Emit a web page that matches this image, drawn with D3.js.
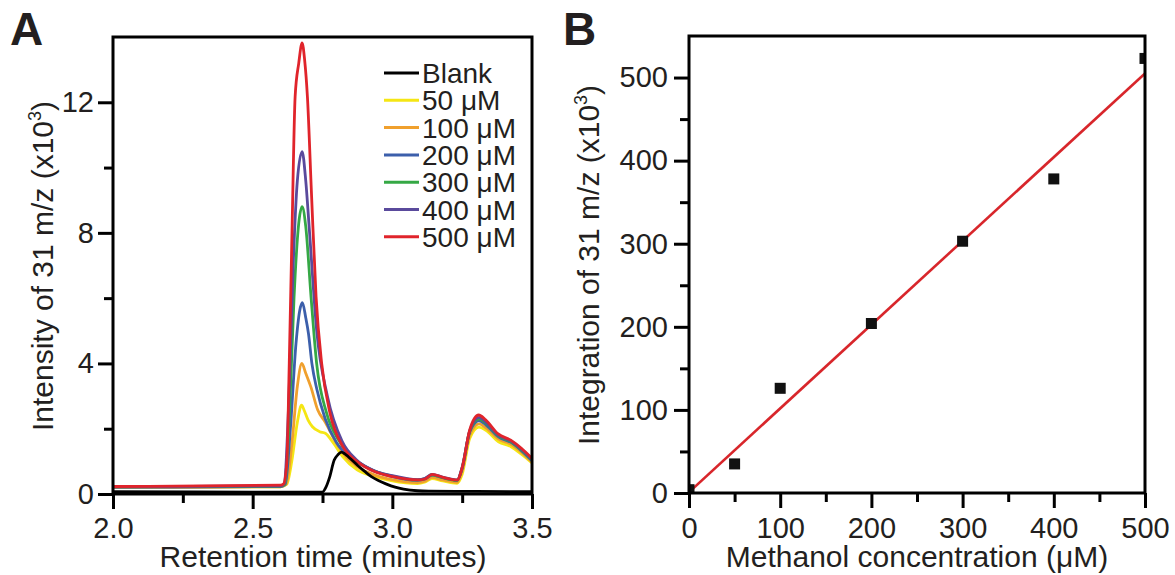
<!DOCTYPE html>
<html>
<head>
<meta charset="utf-8">
<script src="https://cdn.jsdelivr.net/npm/d3@7/dist/d3.min.js"></script>
<style>
body { margin: 0; background: #fff; }
text { font-family: "Liberation Sans", Arial, sans-serif; fill: #231f20; }
</style>
</head>
<body>
<div id="chart"></div>
<script>
// panel A: chromatogram traces [time (min), intensity x10^3]
const blankTrace = [[2.0,0.07],[2.5,0.06],[2.75,0.06],[2.762,0.2],[2.775,0.5],[2.792,1.04],[2.805,1.2],[2.818,1.28],[2.83,1.23],[2.845,1.12],[2.875,0.88],[2.9,0.7],[2.925,0.53],[2.95,0.41],[2.977,0.31],[3.01,0.21],[3.04,0.15],[3.09,0.1],[3.13,0.09],[3.3,0.08],[3.5,0.07]];
const trace50 = [[2.0,0.2],[2.6,0.22],[2.622,0.3],[2.64,1.0],[2.66,2.2],[2.675,2.72],[2.685,2.55],[2.698,2.27],[2.714,2.06],[2.74,1.91],[2.76,1.86],[2.79,1.55],[2.823,1.14],[2.874,0.74],[2.938,0.53],[3.0,0.4],[3.09,0.32],[3.115,0.36],[3.142,0.47],[3.18,0.4],[3.232,0.33],[3.25,0.6],[3.277,1.7],[3.31,2.05],[3.335,1.95],[3.38,1.6],[3.425,1.45],[3.462,1.22],[3.5,0.95]];
const trace100 = [[2.0,0.2],[2.6,0.22],[2.62,0.3],[2.64,1.5],[2.66,3.3],[2.676,4.0],[2.69,3.7],[2.708,3.29],[2.733,2.57],[2.76,2.2],[2.797,1.6],[2.836,1.12],[2.874,0.84],[2.938,0.58],[3.0,0.44],[3.09,0.35],[3.117,0.39],[3.142,0.51],[3.18,0.43],[3.232,0.36],[3.25,0.7],[3.277,1.8],[3.31,2.15],[3.335,2.03],[3.38,1.68],[3.425,1.52],[3.462,1.28],[3.5,0.98]];
const trace200 = [[2.0,0.21],[2.6,0.23],[2.617,0.3],[2.635,2.0],[2.655,4.6],[2.668,5.6],[2.678,5.86],[2.69,5.4],[2.7,4.9],[2.712,4.0],[2.73,3.2],[2.76,2.3],[2.8,1.58],[2.85,1.12],[2.9,0.86],[2.95,0.66],[3.0,0.53],[3.09,0.42],[3.117,0.46],[3.142,0.58],[3.18,0.5],[3.232,0.42],[3.25,0.78],[3.277,1.9],[3.31,2.25],[3.335,2.12],[3.38,1.75],[3.425,1.58],[3.462,1.33],[3.5,1.02]];
const trace300 = [[2.0,0.22],[2.6,0.24],[2.615,0.3],[2.632,2.5],[2.648,6.0],[2.665,8.3],[2.677,8.8],[2.69,8.2],[2.709,6.04],[2.729,4.0],[2.765,2.47],[2.81,1.62],[2.86,1.1],[2.92,0.76],[3.0,0.55],[3.09,0.43],[3.117,0.47],[3.142,0.59],[3.18,0.5],[3.232,0.42],[3.25,0.8],[3.277,1.92],[3.31,2.3],[3.335,2.17],[3.38,1.78],[3.425,1.6],[3.462,1.35],[3.5,1.05]];
const trace400 = [[2.0,0.22],[2.6,0.25],[2.613,0.32],[2.63,3.0],[2.645,7.0],[2.66,9.6],[2.677,10.49],[2.69,9.6],[2.703,8.09],[2.729,5.02],[2.768,2.98],[2.82,1.62],[2.87,1.06],[2.93,0.73],[3.0,0.56],[3.09,0.44],[3.117,0.48],[3.142,0.6],[3.18,0.52],[3.232,0.43],[3.25,0.82],[3.277,1.94],[3.31,2.35],[3.335,2.2],[3.38,1.8],[3.425,1.62],[3.462,1.37],[3.5,1.07]];
const trace500 = [[2.0,0.23],[2.6,0.27],[2.61,0.3],[2.622,0.94],[2.631,4.0],[2.641,8.09],[2.652,12.17],[2.665,13.2],[2.677,13.82],[2.686,13.3],[2.696,12.17],[2.711,9.11],[2.727,6.04],[2.747,4.0],[2.777,2.47],[2.823,1.45],[2.874,0.99],[2.938,0.68],[3.002,0.53],[3.092,0.43],[3.117,0.46],[3.143,0.6],[3.181,0.51],[3.232,0.43],[3.251,0.84],[3.277,1.96],[3.309,2.42],[3.334,2.27],[3.379,1.84],[3.424,1.65],[3.462,1.4],[3.5,1.09]];

const legendLabels = ['Blank', '50 μM', '100 μM', '200 μM', '300 μM', '400 μM', '500 μM'];
const traces = [blankTrace, trace50, trace100, trace200, trace300, trace400, trace500];
const traceColors = ['#000000', '#f5e614', '#f0a02d', '#3c5fab', '#35a845', '#5a4a9c', '#e0242b'];

const timeTicks = [2.0, 2.5, 3.0, 3.5];
const timeMinorTicks = [2.25, 2.75, 3.25];
const intensityTicks = [0, 4, 8, 12];
const intensityMinorTicks = [2, 6, 10];

// panel B: calibration
const concentrations = [0, 50, 100, 200, 300, 400, 500];
const integrations = [4, 35, 126, 204, 303, 378, 523];
const fitLine = [[0, 1], [500, 505]];
const concTicks = [0, 100, 200, 300, 400, 500];
const concMinorTicks = [50, 150, 250, 350, 450];
const integTicks = [0, 100, 200, 300, 400, 500];
const integMinorTicks = [50, 150, 250, 350, 450];

const width = 1175;
const height = 575;

const svg = d3.select('#chart')
    .append('svg')
    .attr('width', width)
    .attr('height', height);

const xA = d3.scaleLinear().domain([2.0, 3.5]).range([113, 532]);
const yA = d3.scaleLinear().domain([0, 14]).range([494, 37]);
const xB = d3.scaleLinear().domain([0, 500]).range([689, 1145]);
const yB = d3.scaleLinear().domain([0, 550]).range([493, 36]);

function styleAxis(g) {
    g.select('.domain').remove();
    g.selectAll('.tick line').attr('stroke', '#000').attr('stroke-width', 3);
    g.selectAll('.tick text').style('font-size', '29px').attr('fill', '#231f20');
}

function drawAxes(x, y, xt, xm, yt, ym, xfmt, xpad, ypad) {
    const y0 = y.range()[0];
    const x0 = x.range()[0];
    svg.append('g')
        .attr('transform', `translate(0, ${y0})`)
        .call(d3.axisBottom(x).tickValues(xt).tickFormat(xfmt).tickSize(15).tickPadding(xpad))
        .call(styleAxis);
    svg.append('g')
        .attr('transform', `translate(0, ${y0})`)
        .call(d3.axisBottom(x).tickValues(xm).tickFormat('').tickSize(9))
        .call(styleAxis);
    svg.append('g')
        .attr('transform', `translate(${x0}, 0)`)
        .call(d3.axisLeft(y).tickValues(yt).tickFormat(d3.format('d')).tickSize(15).tickPadding(ypad))
        .call(styleAxis);
    svg.append('g')
        .attr('transform', `translate(${x0}, 0)`)
        .call(d3.axisLeft(y).tickValues(ym).tickFormat('').tickSize(9))
        .call(styleAxis);
}

function drawFrame(x, y) {
    svg.append('rect')
        .attr('x', x.range()[0])
        .attr('y', y.range()[1])
        .attr('width', x.range()[1] - x.range()[0])
        .attr('height', y.range()[0] - y.range()[1])
        .attr('fill', 'none')
        .attr('stroke', '#000')
        .attr('stroke-width', 3);
}

function addClip(id, x, y) {
    svg.append('clipPath')
        .attr('id', id)
        .append('rect')
        .attr('x', x.range()[0])
        .attr('y', y.range()[1])
        .attr('width', x.range()[1] - x.range()[0])
        .attr('height', y.range()[0] - y.range()[1]);
}

function yTitle(x, yc, label) {
    const t = svg.append('text')
        .attr('transform', `translate(${x}, ${yc}) rotate(-90)`)
        .attr('text-anchor', 'middle')
        .style('font-size', '30px');
    t.append('tspan').text(label + ' (x10');
    t.append('tspan').text('3').style('font-size', '18px').attr('dy', -12);
    t.append('tspan').text(')').attr('dy', 12);
}

// ---------- panel A ----------
addClip('clipA', xA, yA);

const line = d3.line()
    .x(d => xA(d[0]))
    .y(d => yA(d[1]))
    .curve(d3.curveMonotoneX);

// colored traces first, blank drawn over them
const drawOrder = [1, 2, 3, 4, 5, 6, 0];
svg.append('g')
    .attr('clip-path', 'url(#clipA)')
    .selectAll('path')
    .data(drawOrder)
    .enter()
    .append('path')
    .attr('d', i => line(traces[i]))
    .attr('fill', 'none')
    .attr('stroke', i => traceColors[i])
    .attr('stroke-width', 2.8)
    .attr('stroke-linejoin', 'round');

drawAxes(xA, yA, timeTicks, timeMinorTicks, intensityTicks, intensityMinorTicks, d3.format('.1f'), 8, 4);
drawFrame(xA, yA);

const legend = svg.append('g')
    .attr('transform', 'translate(384, 73)');

legend.selectAll('line')
    .data(legendLabels)
    .enter()
    .append('line')
    .attr('x1', 0)
    .attr('x2', 35)
    .attr('y1', (d, i) => i * 27.3)
    .attr('y2', (d, i) => i * 27.3)
    .attr('stroke', (d, i) => traceColors[i])
    .attr('stroke-width', 3);

legend.selectAll('text')
    .data(legendLabels)
    .enter()
    .append('text')
    .attr('x', 38)
    .attr('y', (d, i) => i * 27.3 + 10)
    .style('font-size', '28px')
    .text(d => d);

svg.append('text')
    .attr('x', 323)
    .attr('y', 567)
    .attr('text-anchor', 'middle')
    .style('font-size', '30px')
    .text('Retention time (minutes)');

yTitle(53, 266, 'Intensity of 31 m/z');

svg.append('text')
    .attr('x', 10)
    .attr('y', 45)
    .style('font-size', '46px')
    .style('font-weight', 'bold')
    .attr('fill', '#000')
    .text('A');

// ---------- panel B ----------
addClip('clipB', xB, yB);

svg.append('line')
    .attr('clip-path', 'url(#clipB)')
    .attr('x1', xB(fitLine[0][0]))
    .attr('y1', yB(fitLine[0][1]))
    .attr('x2', xB(fitLine[1][0]))
    .attr('y2', yB(fitLine[1][1]))
    .attr('stroke', '#d8262b')
    .attr('stroke-width', 2.6);

svg.append('g')
    .attr('clip-path', 'url(#clipB)')
    .selectAll('rect')
    .data(concentrations)
    .enter()
    .append('rect')
    .attr('x', d => xB(d) - 5.5)
    .attr('y', (d, i) => yB(integrations[i]) - 5.5)
    .attr('width', 11)
    .attr('height', 11)
    .attr('fill', '#111');

drawAxes(xB, yB, concTicks, concMinorTicks, integTicks, integMinorTicks, d3.format('d'), 9, 6);
drawFrame(xB, yB);

svg.append('text')
    .attr('x', 917)
    .attr('y', 567)
    .attr('text-anchor', 'middle')
    .style('font-size', '30px')
    .text('Methanol concentration (μM)');

yTitle(599, 265, 'Integration of 31 m/z');

svg.append('text')
    .attr('x', 563)
    .attr('y', 45)
    .style('font-size', '46px')
    .style('font-weight', 'bold')
    .attr('fill', '#000')
    .text('B');
</script>
</body>
</html>
